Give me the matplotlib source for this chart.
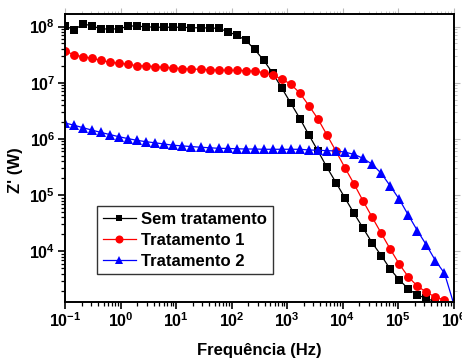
import matplotlib
matplotlib.use("Agg")
import matplotlib.pyplot as plt
from matplotlib.ticker import LogLocator, FixedLocator, FixedFormatter, NullFormatter

plt.rcParams['font.family'] = ['Liberation Sans', 'DejaVu Sans']
plt.rcParams['mathtext.fontset'] = 'custom'
plt.rcParams['mathtext.bf'] = 'Liberation Sans:bold'
plt.rcParams['mathtext.rm'] = 'Liberation Sans:bold'
plt.rcParams['mathtext.default'] = 'bf'

freq = [0.1, 0.1455, 0.2117, 0.3080, 0.4480, 0.6516, 0.9478, 1.379, 2.006, 2.918,
        4.245, 6.175, 8.985, 13.07, 19.01, 27.66, 40.24, 58.53, 85.16, 123.9,
        180.3, 262.2, 381.4, 554.9, 807.3, 1174, 1708, 2485, 3615, 5259,
        7651, 11130, 16190, 23560, 34270, 49860, 72540, 105500, 153500, 223300,
        324900, 472700, 687700, 1000000]

sem_tratamento = [1.03e8, 8.7e7, 1.11e8, 1.03e8, 9.0e7, 9.1e7, 9.0e7, 1.03e8, 1.01e8, 9.9e7,
                  9.7e7, 9.7e7, 9.7e7, 9.7e7, 9.5e7, 9.5e7, 9.4e7, 9.3e7, 8.1e7, 7.0e7,
                  5.7e7, 3.9e7, 2.5e7, 1.47e7, 8.0e6, 4.3e6, 2.3e6, 1.17e6, 6.1e5, 3.1e5,
                  1.66e5, 8.8e4, 4.7e4, 2.57e4, 1.41e4, 8.4e3, 4.8e3, 3.1e3, 2.13e3, 1.66e3,
                  1.45e3, 1.26e3, 1.1e3, 1.0e3]

tratamento_1 = [3.7e7, 3.11e7, 2.9e7, 2.72e7, 2.5e7, 2.31e7, 2.22e7, 2.13e7, 2.0e7, 2.0e7,
                1.93e7, 1.88e7, 1.83e7, 1.78e7, 1.75e7, 1.73e7, 1.70e7, 1.68e7, 1.66e7, 1.66e7,
                1.64e7, 1.60e7, 1.51e7, 1.37e7, 1.16e7, 9.4e6, 6.5e6, 3.9e6, 2.26e6, 1.17e6,
                6.0e5, 3.03e5, 1.57e5, 7.8e4, 4.03e4, 2.09e4, 1.09e4, 5.9e3, 3.5e3, 2.4e3,
                1.87e3, 1.52e3, 1.36e3, 1.15e3]

tratamento_2 = [1.92e6, 1.75e6, 1.58e6, 1.43e6, 1.30e6, 1.19e6, 1.09e6, 1.01e6, 9.4e5, 8.9e5,
                8.5e5, 8.1e5, 7.7e5, 7.5e5, 7.3e5, 7.1e5, 6.95e5, 6.8e5, 6.75e5, 6.67e5,
                6.6e5, 6.6e5, 6.53e5, 6.53e5, 6.53e5, 6.53e5, 6.53e5, 6.35e5, 6.27e5, 6.17e5,
                6.1e5, 5.8e5, 5.3e5, 4.5e5, 3.53e5, 2.44e5, 1.45e5, 8.4e4, 4.4e4, 2.33e4,
                1.29e4, 6.8e3, 4.06e3, 1.2e3]

labels = ["Sem tratamento", "Tratamento 1", "Tratamento 2"]
x_ticks = [1e-1, 1e0, 1e1, 1e2, 1e3, 1e4, 1e5, 1e6]
x_labels = [r"$\mathbf{10}^{\mathbf{-1}}$", r"$\mathbf{10}^{\mathbf{0}}$", r"$\mathbf{10}^{\mathbf{1}}$",
            r"$\mathbf{10}^{\mathbf{2}}$", r"$\mathbf{10}^{\mathbf{3}}$", r"$\mathbf{10}^{\mathbf{4}}$",
            r"$\mathbf{10}^{\mathbf{5}}$", r"$\mathbf{10}^{\mathbf{6}}$"]
y_ticks = [1e4, 1e5, 1e6, 1e7, 1e8]
y_labels = [r"$\mathbf{10}^{\mathbf{4}}$", r"$\mathbf{10}^{\mathbf{5}}$", r"$\mathbf{10}^{\mathbf{6}}$",
            r"$\mathbf{10}^{\mathbf{7}}$", r"$\mathbf{10}^{\mathbf{8}}$"]

fig = plt.figure(figsize=(4.62, 3.6), dpi=100)
ax = fig.add_axes([65 / 462, 1 - 302 / 360, 388.5 / 462, 288 / 360])

ax.plot(freq, sem_tratamento, color='black', lw=0.9, marker='s', ms=5.4, mew=0, label=labels[0])
ax.plot(freq, tratamento_1, color='red', lw=0.9, marker='o', ms=6.4, mew=0, label=labels[1])
ax.plot(freq, tratamento_2, color='blue', lw=0.9, marker='^', ms=6.6, mew=0, label=labels[2])

ax.set_xscale('log')
ax.set_yscale('log')
ax.set_xlim(0.1, 1e6)
ax.set_ylim(1.25e3, 1.67e8)

ax.xaxis.set_major_locator(FixedLocator(x_ticks))
ax.xaxis.set_major_formatter(FixedFormatter(x_labels))
ax.yaxis.set_major_locator(FixedLocator(y_ticks))
ax.yaxis.set_major_formatter(FixedFormatter(y_labels))
ax.xaxis.set_minor_locator(LogLocator(base=10, subs=range(2, 10), numticks=20))
ax.yaxis.set_minor_locator(LogLocator(base=10, subs=range(2, 10), numticks=20))
ax.xaxis.set_minor_formatter(NullFormatter())
ax.yaxis.set_minor_formatter(NullFormatter())

ax.tick_params(which='major', direction='out', length=5, width=1.2, labelsize=11.5, pad=2)
ax.tick_params(which='minor', direction='out', length=3, width=0.9)
for s in ax.spines.values():
    s.set_linewidth(1.4)

# faint ticks on top and right
for side in ('top', 'right'):
    if side == 'top':
        sec = ax.secondary_xaxis('top')
        sec.set_xscale('log')
        sec.xaxis.set_major_locator(FixedLocator(x_ticks))
        sec.xaxis.set_minor_locator(LogLocator(base=10, subs=range(2, 10), numticks=20))
        sec.xaxis.set_major_formatter(NullFormatter())
        sec.xaxis.set_minor_formatter(NullFormatter())
    else:
        sec = ax.secondary_yaxis('right')
        sec.set_yscale('log')
        sec.yaxis.set_major_locator(FixedLocator(y_ticks))
        sec.yaxis.set_minor_locator(LogLocator(base=10, subs=range(2, 10), numticks=20))
        sec.yaxis.set_major_formatter(NullFormatter())
        sec.yaxis.set_minor_formatter(NullFormatter())
    sec.tick_params(which='major', direction='out', length=4, width=0.8, colors='#bbbbbb')
    sec.tick_params(which='minor', direction='out', length=2.5, width=0.6, colors='#bbbbbb')
    for s in sec.spines.values():
        s.set_visible(False)

ax.set_xlabel("Frequência (Hz)", fontsize=12, fontweight='bold', labelpad=9)
ax.set_ylabel("Z' (W)", fontsize=12, fontweight='bold')
ax.yaxis.set_label_coords(-0.108, 0.458)

leg = ax.legend(loc='upper left', bbox_to_anchor=(0.082, 0.333), borderaxespad=0,
                prop={'size': 12, 'weight': 'bold'}, frameon=True, fancybox=False,
                edgecolor='black', handlelength=2.0, handletextpad=0.3,
                labelspacing=0.35, borderpad=0.35, markerscale=0.9)
leg.get_frame().set_linewidth(1.0)

fig.savefig("out.png", dpi=100)
